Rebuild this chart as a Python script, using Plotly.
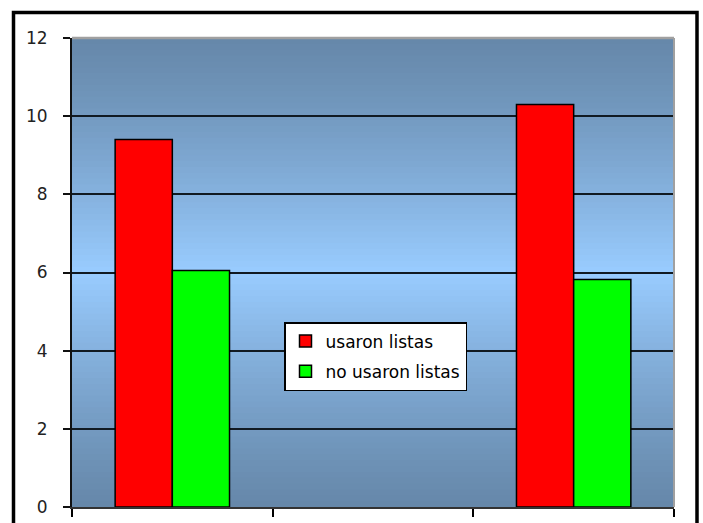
import plotly.graph_objects as go

# ---- data ----
categories = ["A", "B", "C"]
series_names = ["usaron listas", "no usaron listas"]
usaron = [9.4, None, 10.3]
no_usaron = [6.05, None, 5.82]
y_ticks = [0, 2, 4, 6, 8, 10, 12]

W, H = 703, 523
L, R, T, B = 72, 29, 38, 16

fig = go.Figure()
fig.add_trace(go.Bar(x=categories, y=usaron, name=series_names[0],
                     marker=dict(color="#ff0000", line=dict(color="#000000", width=1.5)),
                     legendgroup="g1"))
fig.add_trace(go.Bar(x=categories, y=no_usaron, name=series_names[1],
                     marker=dict(color="#00ff00", line=dict(color="#000000", width=1.5)),
                     legendgroup="g2"))

# gradient background (dark -> light -> dark)
def lerp(c1, c2, t):
    return tuple(int(round(a + (b - a) * t)) for a, b in zip(c1, c2))

edge = (102, 136, 170)
mid = (153, 204, 255)
n = 80
shapes = []
for i in range(n):
    y0 = i / n
    y1 = (i + 1) / n
    c = (y0 + y1) / 2
    t = 1 - abs(c - 0.5) * 2  # 0 at edges, 1 at middle
    col = lerp(edge, mid, t ** 1.2)
    shapes.append(dict(type="rect", xref="x domain", yref="y domain",
                       x0=0, x1=1, y0=y0, y1=y1 + 0.002,
                       fillcolor="rgb(%d,%d,%d)" % col, line=dict(width=0),
                       layer="below"))
# top and right plot borders (gray)
shapes.append(dict(type="line", xref="x domain", yref="y domain", x0=0, x1=1, y0=1, y1=1,
                   line=dict(color="#a0a0a0", width=2.5), layer="above"))
shapes.append(dict(type="line", xref="x domain", yref="y domain", x0=1, x1=1, y0=0, y1=1,
                   line=dict(color="#a0a0a0", width=2), layer="above"))
# outer frame
pw, ph = W - L - R, H - T - B
shapes.append(dict(type="rect", xref="paper", yref="paper",
                   x0=(13.5 - L) / pw, x1=(697 - L) / pw,
                   y0=-0.3, y1=(H - B - 12.5) / ph,
                   line=dict(color="#000000", width=3.5), fillcolor="rgba(0,0,0,0)",
                   layer="above"))

fig.update_layout(
    template="none",
    width=W, height=H,
    margin=dict(l=L, r=R, t=T, b=B, pad=0, autoexpand=False),
    paper_bgcolor="#ffffff",
    plot_bgcolor="rgba(0,0,0,0)",
    barmode="group", bargap=0.43, bargroupgap=0,
    shapes=shapes,
    showlegend=True,
    legend=dict(x=(284 - L) / pw, y=(H - B - 322) / ph, xanchor="left", yanchor="top",
                bgcolor="#ffffff", bordercolor="#000000", borderwidth=1.5,
                font=dict(family="DejaVu Sans", size=17, color="#000000"),
                traceorder="grouped", tracegroupgap=5, itemwidth=30),
    font=dict(family="DejaVu Sans", size=17, color="#222222"),
)
fig.update_xaxes(type="category", range=[-0.5, 2.5], showticklabels=False, automargin=False,
                 ticks="outside", tickson="boundaries", ticklen=8, tickwidth=2, tickcolor="#000000",
                 showline=True, linecolor="#333333", linewidth=2, showgrid=False,
                 fixedrange=True)
fig.update_yaxes(range=[0, 12], tickvals=y_ticks, ticks="outside", ticklen=7, tickwidth=2,
                 automargin=False,
                 tickcolor="#111111", ticklabelstandoff=12,
                 showline=True, linecolor="#111111", linewidth=2,
                 showgrid=True, gridcolor="#111a22", gridwidth=2, zeroline=False,
                 tickfont=dict(family="DejaVu Sans", size=17, color="#222222"))

fig.write_html("out.html")
